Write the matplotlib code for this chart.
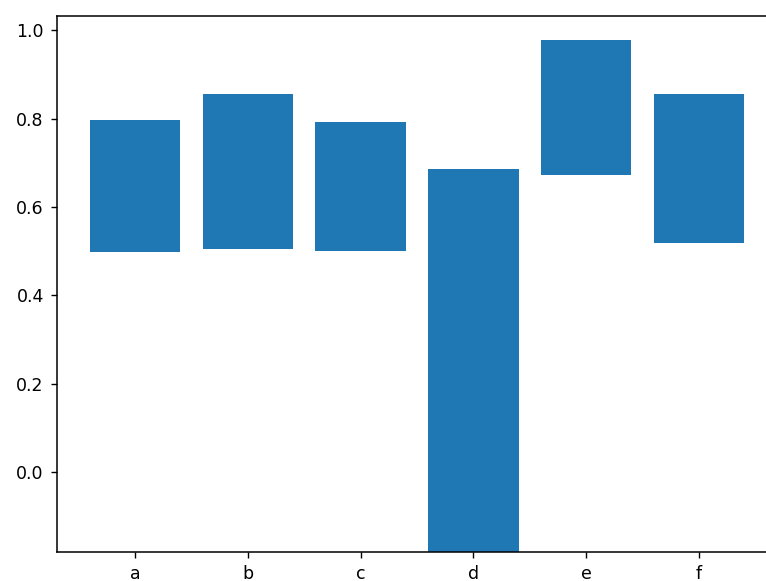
import matplotlib
matplotlib.use('Agg')
import matplotlib.pyplot as plt

labels = ['a', 'b', 'c', 'd', 'e', 'f']
lows = [0.498, 0.505, 0.500, -0.30, 0.672, 0.518]
highs = [0.797, 0.855, 0.792, 0.686, 0.977, 0.855]

fig = plt.figure(figsize=(7.66, 5.81), dpi=100)
# axes run past the right edge, like the cropped original
ax = fig.add_axes([57 / 766, 29 / 581, 720 / 766, 536 / 581])

heights = [h - l for h, l in zip(highs, lows)]
ax.bar(labels, heights, bottom=lows, width=0.8, color='#1f77b4')
ax.set_xlim(-0.69, 5.69)
ax.set_ylim(-0.181, 1.032)
ax.set_yticks([0.0, 0.2, 0.4, 0.6, 0.8, 1.0])
ax.tick_params(labelsize=12.5, length=4.5, pad=5, width=1)
for s in ax.spines.values():
    s.set_linewidth(1.1)

fig.savefig('out.png', dpi=100)
